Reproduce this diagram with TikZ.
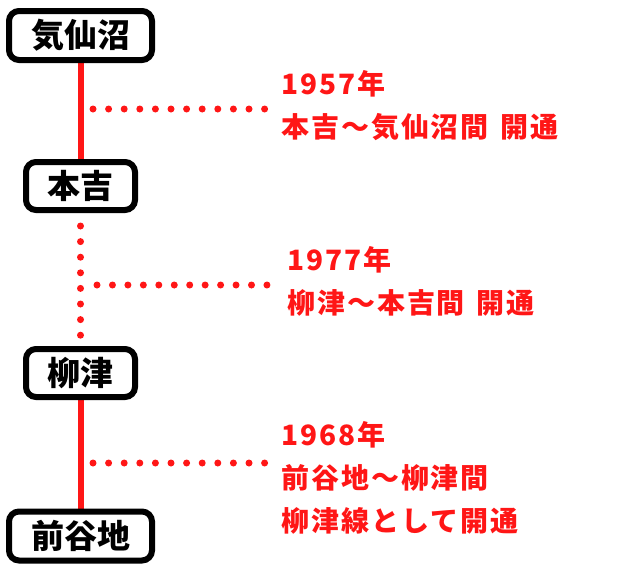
\documentclass[tikz,border=0pt]{standalone}
\usepackage{fontspec}
\usetikzlibrary{backgrounds}
\setmainfont{Noto Sans CJK JP}
\newfontfamily\redfont{Noto Sans CJK JP}[LetterSpace=7]
\definecolor{linered}{RGB}{255,22,22}
\tikzset{
  stationbox/.style={draw=black, line width=6pt, rounded corners=10pt, fill=white,
    inner sep=0pt, font=\fontsize{33}{36}\selectfont\bfseries, text=black},
  wide/.style={minimum width=143pt, minimum height=49pt},
  narrow/.style={minimum width=109pt, minimum height=48pt},
  solidline/.style={draw=linered, line width=6pt},
  dotv/.style={draw=linered, line width=7pt, line cap=round, dash pattern=on 0pt off 15.6pt},
  doth/.style={draw=linered, line width=7pt, line cap=round, dash pattern=on 0pt off 15.6pt},
  doth2/.style={draw=linered, line width=7pt, line cap=round, dash pattern=on 0pt off 15.45pt},
  note/.style={text=linered, anchor=base west, inner sep=0pt, align=left,
    font=\redfont\fontsize{28}{43}\selectfont\bfseries}
}
\begin{document}
\begin{tikzpicture}[x=1pt, y=-1pt]
\useasboundingbox (0,0) rectangle (640,570);
\node[stationbox, wide]   (kese) at (80.5,35.5) {気仙沼};
\node[stationbox, narrow] (moto) at (80.5,186) {本吉};
\node[stationbox, narrow] (yana) at (80.5,373) {柳津};
\node[stationbox, wide]   (mae)  at (80.5,536) {前谷地};
\begin{scope}[on background layer]
\draw[solidline] (kese.south) -- (moto.north);
\draw[solidline] (yana.south) -- (mae.north);
\end{scope}
\coordinate (v1) at (80.5,226);
\coordinate (v2) at (80.5,336);
\draw[dotv] (v1) -- (v2);
\coordinate (h1a) at (93,109);
\coordinate (h1b) at (266,109);
\coordinate (h2a) at (97,285);
\coordinate (h2b) at (267.5,285);
\coordinate (h3a) at (93,463);
\coordinate (h3b) at (266,463);
\draw[doth] (h1a) -- (h1b);
\draw[doth2] (h2a) -- (h2b);
\draw[doth] (h3a) -- (h3b);
\node[note] (n1) at (281,137) {1957年\\本吉～気仙沼間\hspace{3pt} 開通};
\node[note] (n2) at (287,313) {1977年\\柳津～本吉間\hspace{3pt} 開通};
\node[note] (n3) at (281,531) {1968年\\前谷地～柳津間\\柳津線として開通};
\end{tikzpicture}
\end{document}
